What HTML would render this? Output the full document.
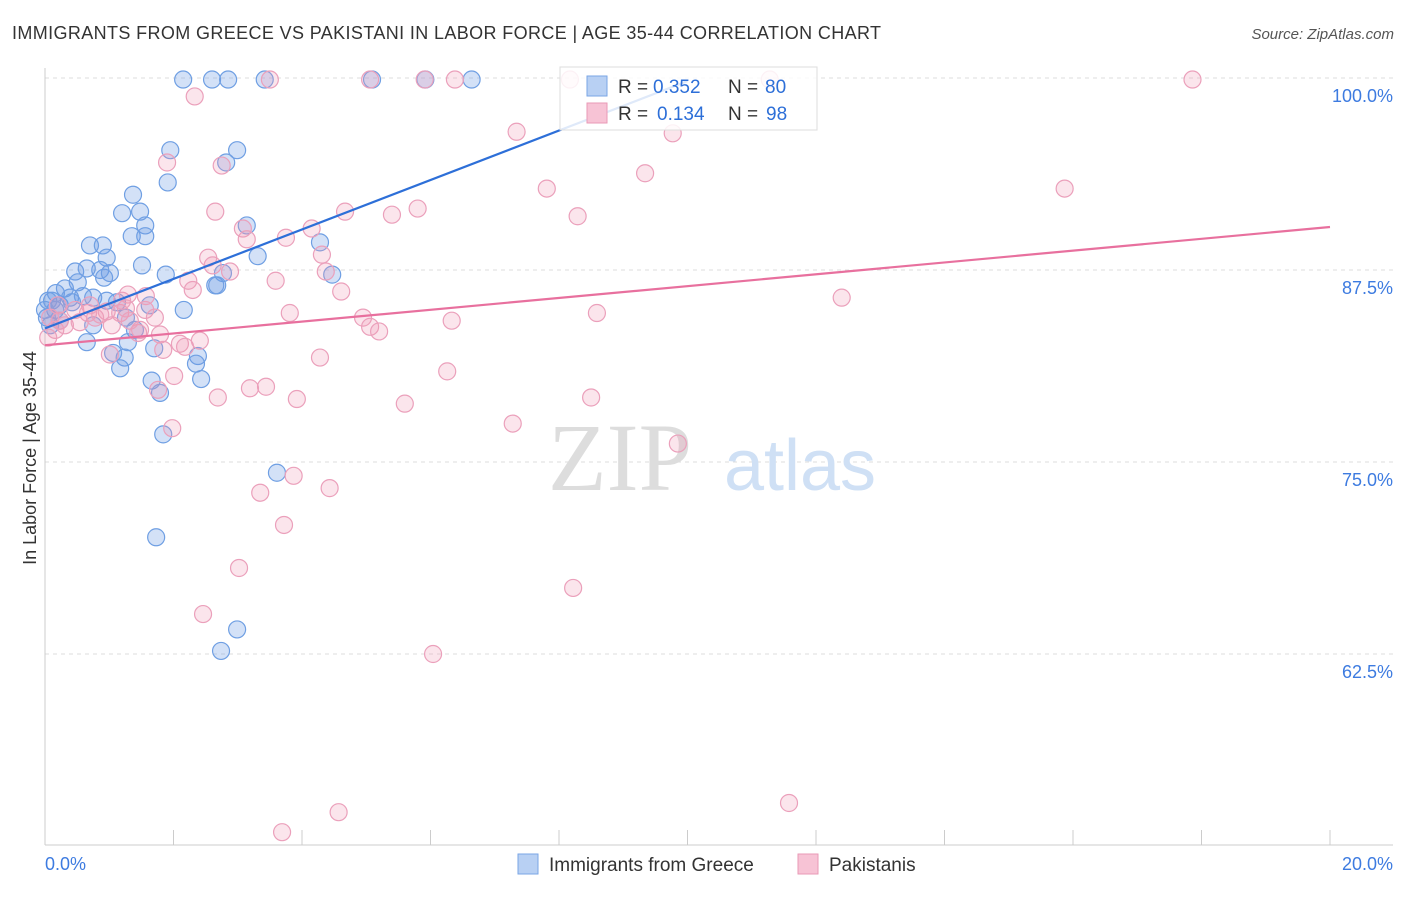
<!DOCTYPE html>
<html><head><meta charset="utf-8"><style>
body{margin:0;background:#fff;font-family:"Liberation Sans",sans-serif;}
</style></head><body>
<svg width="1406" height="892" xmlns="http://www.w3.org/2000/svg" font-family="Liberation Sans, sans-serif">
<text x="12" y="39" font-size="18" fill="#333" textLength="869" lengthAdjust="spacing">IMMIGRANTS FROM GREECE VS PAKISTANI IN LABOR FORCE | AGE 35-44 CORRELATION CHART</text>
<text x="1394" y="39" font-size="15" fill="#555" font-style="italic" text-anchor="end">Source: ZipAtlas.com</text>
<g id="grid"></g>
<text x="620" y="490" font-size="96" fill="#ddd" font-family="Liberation Serif, serif" text-anchor="middle">ZIP</text>
<text x="800" y="490" font-size="72" fill="#cfe0f5" text-anchor="middle">atlas</text>
<g id="pts"></g>
<g id="lines"></g>
<text x="36" y="458" font-size="18" fill="#333" text-anchor="middle" transform="rotate(-90 36 458)">In Labor Force | Age 35-44</text>
<g font-size="19" fill="#333">
<rect x="560" y="67" width="257" height="63" fill="#fff" fill-opacity="0.85" stroke="#ddd"/>
<rect x="587" y="76" width="20" height="20" fill="#b8d0f3" stroke="#7aa6e6"/>
<text x="618" y="93">R =</text><text x="653" y="93" fill="#2d6fd8">0.352</text>
<text x="728" y="93">N =</text><text x="765" y="93" fill="#2d6fd8">80</text>
<rect x="587" y="103" width="20" height="20" fill="#f7c3d5" stroke="#e99ab6"/>
<text x="618" y="120">R =</text><text x="657" y="120" fill="#2d6fd8">0.134</text>
<text x="728" y="120">N =</text><text x="766" y="120" fill="#2d6fd8">98</text>
</g>
<g>
<rect x="518" y="854" width="20" height="20" fill="#b8d0f3" stroke="#7aa6e6"/>
<text x="549" y="871" font-size="19" fill="#333">Immigrants from Greece</text>
<rect x="798" y="854" width="20" height="20" fill="#f7c3d5" stroke="#e99ab6"/>
<text x="829" y="871" font-size="19" fill="#333">Pakistanis</text>
</g>
</svg>
<script>
const yTicks=[100,87.5,75,62.5];
const yTickLabels=["100.0%","87.5%","75.0%","62.5%"];
const xLabels=["0.0%","20.0%"];
const greeceX=[2.15,2.60,2.85,3.42,5.09,5.92,6.64,1.95,2.99,2.82,1.91,1.37,1.20,1.48,1.56,1.35,1.56,3.14,0.70,0.90,0.96,4.28,3.31,0.47,0.86,1.01,0.65,0.92,1.51,1.88,4.47,2.77,2.65,2.68,0.51,0.17,0.31,0.39,0.11,0.59,0.75,0.96,1.12,1.63,2.16,0.16,0.03,0.23,1.26,0.75,1.40,0.65,1.29,1.70,1.06,2.38,2.35,1.24,1.17,2.43,1.66,1.79,1.84,3.61,1.73,2.99,2.74,0.05,0.23,0.08,0.42,0.00];
const greeceY=[99.9,99.9,99.9,99.9,99.9,99.9,99.9,95.3,95.3,94.5,93.2,92.4,91.2,91.3,90.4,89.7,89.7,90.4,89.1,89.1,88.3,89.3,88.4,87.4,87.5,87.3,87.6,87.0,87.8,87.2,87.2,87.3,86.5,86.5,86.7,86.0,86.3,85.7,85.5,85.8,85.7,85.5,85.4,85.2,84.9,84.9,84.4,84.2,84.4,83.9,83.6,82.8,82.8,82.4,82.1,81.9,81.4,81.8,81.1,80.4,80.3,79.5,76.8,74.3,70.1,64.1,62.7,85.5,85.2,83.9,85.4,84.9];
const pakX=[2.33,3.50,5.06,5.91,6.38,8.17,11.28,17.86,7.34,9.77,1.90,2.75,9.34,7.81,15.87,2.65,5.40,5.80,8.29,4.67,3.08,3.75,4.15,3.14,2.54,4.31,2.88,2.61,2.23,3.59,4.37,2.30,4.61,1.57,1.29,12.40,3.81,4.95,6.33,8.59,5.06,5.20,0.96,1.17,0.78,0.47,0.67,0.23,0.08,0.16,0.05,1.45,1.79,2.10,2.18,2.41,1.01,1.48,1.26,4.28,1.84,6.26,2.01,1.76,3.19,3.44,2.69,3.92,5.60,8.50,7.28,1.98,9.85,3.87,4.43,3.35,3.72,3.02,8.22,2.46,6.04,11.58,4.57,3.69,0.31,0.54,0.86,1.04,1.32,1.56,1.71,0.20,0.70,1.20];
const pakY=[98.8,99.9,99.9,99.9,99.9,99.9,99.9,99.9,96.5,96.4,94.5,94.3,93.8,92.8,92.8,91.3,91.1,91.5,91.0,91.3,90.2,89.6,90.2,89.5,88.3,88.5,87.4,87.8,86.8,86.8,87.4,86.2,86.1,85.8,85.9,85.7,84.7,84.4,84.2,84.7,83.8,83.5,84.8,84.7,84.4,84.9,84.7,84.2,84.4,83.6,83.1,83.4,83.3,82.7,82.5,82.9,82.0,83.6,85.0,81.8,82.3,80.9,80.6,79.7,79.8,79.9,79.2,79.1,78.8,79.2,77.5,77.2,76.2,74.1,73.3,73.0,70.9,68.1,66.8,65.1,62.5,52.8,52.2,50.9,83.9,84.1,84.6,83.9,84.2,84.9,84.4,85.2,85.2,85.5];
const greeceTrend=[[0,83.7],[10.0,99.8]];
const pakTrend=[[0,82.6],[20,90.3]];
const NS="http://www.w3.org/2000/svg";
const xs=v=>45+v/20*1285, ys=v=>78+(100-v)*15.36;
function mk(t,a,p){const e=document.createElementNS(NS,t);for(const k in a)e.setAttribute(k,a[k]);p.appendChild(e);return e;}
const grid=document.getElementById('grid');
yTicks.forEach((v,i)=>{
 const l=mk('line',{x1:45,x2:1393,y1:ys(v),y2:ys(v),stroke:'#ddd','stroke-dasharray':'4,4'},grid);
 
 
 const t=mk('text',{x:1393,y:ys(v)+24,'font-size':18,fill:'#3d7be0','text-anchor':'end'},grid);t.textContent=yTickLabels[i];
 
 
});
mk('line',{x1:45,x2:45,y1:68,y2:845,stroke:'#ccc'},grid);
mk('line',{x1:45,x2:1393,y1:845,y2:845,stroke:'#ccc'},grid);
for(let i=0;i<=10;i++){const x=xs(i*2);const l=mk('line',{x1:x,x2:x,y1:830,y2:845,stroke:'#ccc'},grid);
 
 }
[[0,'start',45],[20,'end',1393]].forEach((d,i)=>{const t=mk('text',{x:d[2],y:870,'font-size':18,fill:'#3d7be0','text-anchor':d[1]},grid);t.textContent=xLabels[i];
 
 });
const pts=document.getElementById('pts');
greeceX.forEach((v,i)=>{const c=mk('circle',{cx:xs(v),cy:ys(greeceY[i]),r:8.5,fill:'rgba(110,155,230,0.3)',stroke:'#6f9fe3','stroke-width':1.2},pts);
 
 });
pakX.forEach((v,i)=>{const c=mk('circle',{cx:xs(v),cy:ys(pakY[i]),r:8.5,fill:'rgba(240,150,180,0.25)',stroke:'#eba0bb','stroke-width':1.2},pts);
 
 });
const lines=document.getElementById('lines');
const gl=mk('line',{x1:xs(greeceTrend[0][0]),y1:ys(greeceTrend[0][1]),x2:xs(greeceTrend[1][0]),y2:ys(greeceTrend[1][1]),stroke:'#2d6fd8','stroke-width':2.2},lines);


const pl=mk('line',{x1:xs(pakTrend[0][0]),y1:ys(pakTrend[0][1]),x2:xs(pakTrend[1][0]),y2:ys(pakTrend[1][1]),stroke:'#e8709e','stroke-width':2.2},lines);


</script>
</body></html>
